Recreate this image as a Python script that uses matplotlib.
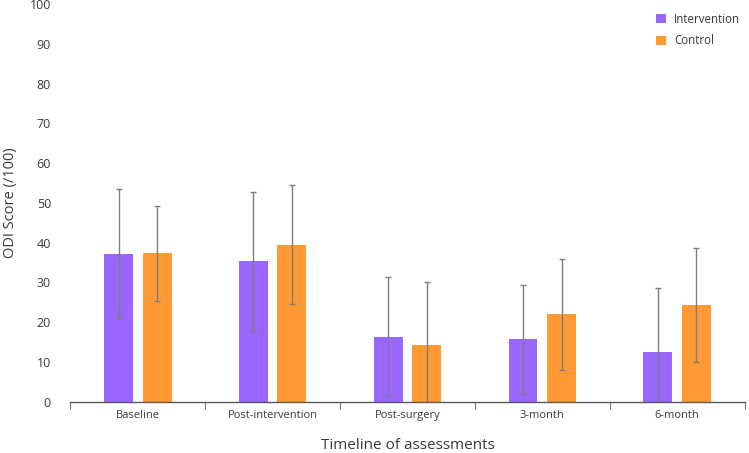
import matplotlib
matplotlib.use("Agg")
import matplotlib.pyplot as plt
import numpy as np

plt.rcParams['font.family'] = ['Open Sans', 'DejaVu Sans']

# data
timepoints = ["Baseline", "Post-intervention", "Post-surgery", "3-month", "6-month"]
intervention = [37.2, 35.3, 16.4, 15.7, 12.6]
intervention_sd = [16.4, 17.4, 15.0, 13.7, 16.0]
control = [37.3, 39.5, 14.2, 22.0, 24.3]
control_sd = [12.0, 15.0, 16.0, 14.0, 14.3]

purple = '#9966ff'
orange = '#ff9933'
text_col = '#3a3a3a'

fig = plt.figure(figsize=(7.49, 4.53), dpi=100)
ax = fig.add_axes([0.094, 0.113, 0.9, 0.878])

x = np.arange(len(timepoints))
w = 0.215
off = 0.143
err_kw = dict(ecolor='#7f7f7f', elinewidth=1, capsize=2.5, capthick=1)
ax.bar(x - off, intervention, w, yerr=intervention_sd, color=purple,
       label='Intervention', error_kw=err_kw)
ax.bar(x + off, control, w, yerr=control_sd, color=orange,
       label='Control', error_kw=err_kw)

ax.set_xlim(-0.5, len(timepoints) - 0.5)
ax.set_ylim(0, 100)
ax.set_yticks(range(0, 101, 10))

ax.set_xticks(x)
ax.set_xticklabels(timepoints, fontsize=8, color=text_col)
ax.set_xticks(np.arange(-0.5, len(timepoints), 1), minor=True)
ax.tick_params(axis='x', which='major', length=0, pad=6)
ax.tick_params(axis='x', which='minor', length=5, color='#595959', direction='out')
ax.tick_params(axis='y', length=0, labelsize=9, labelcolor=text_col, pad=14)

for s in ['top', 'right', 'left']:
    ax.spines[s].set_visible(False)
ax.spines['bottom'].set_color('#595959')
ax.spines['bottom'].set_linewidth(1)

ax.set_xlabel("Timeline of assessments", fontsize=11, color=text_col, labelpad=12)
ax.set_ylabel("ODI Score (/100)", fontsize=10.5, color=text_col, labelpad=8)

ax.legend(loc='upper right', bbox_to_anchor=(1.0, 0.99), frameon=False,
          fontsize=8.3, handlelength=0.8, handleheight=0.8, labelcolor=text_col,
          borderaxespad=0, labelspacing=0.75, handletextpad=0.7)

fig.savefig("out.png", dpi=100)
